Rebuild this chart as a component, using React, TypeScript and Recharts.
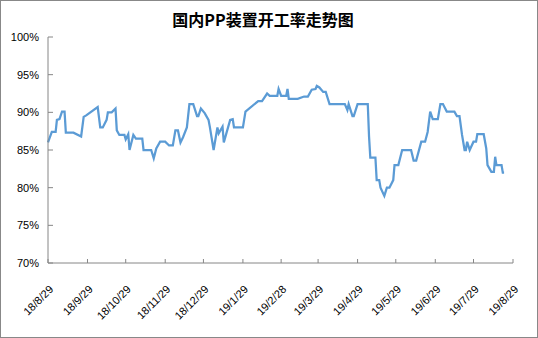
import { LineChart, Line, XAxis, YAxis } from 'recharts';

// daily readings, 国内PP装置开工率 (%)
const dates = [
  '2018-08-29', '2018-09-01', '2018-09-04', '2018-09-05', '2018-09-07', '2018-09-09', '2018-09-11', '2018-09-12',
  '2018-09-18', '2018-09-24', '2018-09-26', '2018-09-28', '2018-10-07', '2018-10-09', '2018-10-11', '2018-10-14',
  '2018-10-15', '2018-10-18', '2018-10-21', '2018-10-22', '2018-10-24', '2018-10-28', '2018-10-29', '2018-10-31',
  '2018-11-01', '2018-11-04', '2018-11-06', '2018-11-11', '2018-11-12', '2018-11-18', '2018-11-20', '2018-11-22',
  '2018-11-25', '2018-11-29', '2018-12-02', '2018-12-05', '2018-12-07', '2018-12-09', '2018-12-11', '2018-12-13',
  '2018-12-16', '2018-12-18', '2018-12-21', '2018-12-24', '2018-12-25', '2018-12-27', '2018-12-30', '2019-01-02',
  '2019-01-03', '2019-01-06', '2019-01-09', '2019-01-10', '2019-01-13', '2019-01-14', '2019-01-16', '2019-01-19',
  '2019-01-21', '2019-01-22', '2019-01-29', '2019-01-31', '2019-02-10', '2019-02-13', '2019-02-17', '2019-02-19',
  '2019-02-25', '2019-02-26', '2019-02-28', '2019-03-04', '2019-03-05', '2019-03-06', '2019-03-13', '2019-03-18',
  '2019-03-21', '2019-03-24', '2019-03-27', '2019-03-28', '2019-03-30', '2019-04-02', '2019-04-04', '2019-04-07',
  '2019-04-19', '2019-04-21', '2019-04-22', '2019-04-25', '2019-04-26', '2019-04-29', '2019-05-07', '2019-05-08',
  '2019-05-09', '2019-05-13', '2019-05-14', '2019-05-16', '2019-05-17', '2019-05-20', '2019-05-22', '2019-05-24',
  '2019-05-27', '2019-05-28', '2019-05-31', '2019-06-03', '2019-06-10', '2019-06-12', '2019-06-14', '2019-06-18',
  '2019-06-21', '2019-06-23', '2019-06-25', '2019-06-27', '2019-07-01', '2019-07-03', '2019-07-05', '2019-07-08',
  '2019-07-14', '2019-07-16', '2019-07-18', '2019-07-20', '2019-07-22', '2019-07-23', '2019-07-24', '2019-07-26',
  '2019-07-29', '2019-07-31', '2019-08-01', '2019-08-06', '2019-08-08', '2019-08-09', '2019-08-12', '2019-08-14',
  '2019-08-15', '2019-08-16', '2019-08-20', '2019-08-21', '2019-08-22',
];

const rates = [
  86.0, 87.4, 87.4, 89.0, 89.1, 90.1, 90.1, 87.3,
  87.3, 86.8, 89.4, 89.6, 90.7, 88.0, 88.0, 89.0,
  90.0, 90.0, 90.5, 87.6, 87.0, 87.0, 86.4, 87.1,
  85.0, 87.0, 86.5, 86.5, 85.0, 85.0, 83.9, 85.2,
  86.1, 86.1, 85.6, 85.6, 87.6, 87.6, 86.0, 86.7,
  88.0, 91.1, 91.1, 89.5, 89.5, 90.5, 89.9, 89.0,
  88.1, 85.0, 88.0, 87.2, 88.1, 86.0, 87.2, 89.0,
  89.1, 88.0, 88.0, 90.1, 91.5, 91.5, 92.5, 92.2,
  92.2, 93.1, 92.2, 92.2, 93.1, 91.8, 91.8, 92.1,
  92.1, 93.0, 93.1, 93.5, 93.3, 92.7, 92.7, 91.1,
  91.1, 90.3, 91.1, 89.5, 89.5, 91.1, 91.1, 86.8,
  84.0, 84.0, 81.0, 81.0, 80.0, 78.9, 80.0, 80.0,
  81.0, 83.0, 83.0, 85.0, 85.0, 83.6, 83.6, 86.1,
  86.1, 87.4, 90.1, 89.1, 89.1, 91.1, 91.1, 90.1,
  90.1, 89.5, 89.5, 87.0, 85.0, 85.0, 86.1, 85.0,
  86.1, 86.1, 87.1, 87.1, 85.2, 83.0, 82.1, 82.1,
  84.1, 83.0, 83.0, 82.0, 82.0,
];

const tickDates = [
  '2018-08-29', '2018-09-29', '2018-10-29', '2018-11-29', '2018-12-29', '2019-01-29', '2019-02-28',
  '2019-03-29', '2019-04-29', '2019-05-29', '2019-06-29', '2019-07-29', '2019-08-29',
];
const tickLabels = [
  '18/8/29', '18/9/29', '18/10/29', '18/11/29', '18/12/29', '19/1/29', '19/2/28',
  '19/3/29', '19/4/29', '19/5/29', '19/6/29', '19/7/29', '19/8/29',
];
const yTicks = [70, 75, 80, 85, 90, 95, 100];

const start = Date.UTC(2018, 7, 29);
const toDay = (s: string) => {
  const [y, m, d] = s.split('-').map(Number);
  return Math.round((Date.UTC(y, m - 1, d) - start) / 86400000);
};

const data = dates.map((d, i) => ({ day: toDay(d), rate: rates[i] }));
const xTicks = tickDates.map(toDay);

const labelFont = '"Liberation Sans", Arial, sans-serif';
const axisColor = '#868686';

function DateTick({ x, y, payload }: any) {
  const label = tickLabels[xTicks.indexOf(payload.value)];
  const tx = x + 6;
  const ty = y + 27;
  return (
    <text x={tx} y={ty} transform={`rotate(-45, ${tx}, ${ty})`} textAnchor="end"
      fontSize={11} fill="#000" fontFamily={labelFont}>
      {label}
    </text>
  );
}

export default function App() {
  return (
    <div style={{ position: 'absolute', left: 0, top: 0, width: 538, height: 338, boxSizing: 'border-box',
      border: '1px solid #888', background: '#fff' }}>
      <div style={{ position: 'absolute', left: 0, top: 10, width: 524, textAlign: 'center', fontSize: 16,
        lineHeight: '16px', fontWeight: 'bold', fontFamily: '"Noto Sans CJK SC", sans-serif', color: '#000' }}>
        国内PP装置开工率走势图
      </div>
      <LineChart width={536} height={336} data={data} margin={{ top: 36, right: 24, bottom: 0, left: 0 }}>
        <XAxis dataKey="day" type="number" domain={[0, 365]} ticks={xTicks} interval={0}
          height={74} stroke={axisColor} tickSize={-4} tickMargin={4} tick={<DateTick />} />
        <YAxis type="number" domain={[70, 100]} ticks={yTicks} interval={0} width={47}
          stroke={axisColor} tickSize={-5} tickMargin={14}
          tick={{ fontSize: 11, fill: '#000', fontFamily: labelFont }}
          tickFormatter={(v: number) => `${v}%`} />
        <Line type="linear" dataKey="rate" stroke="#5B9BD5" strokeWidth={2.25} dot={false}
          isAnimationActive={false} />
      </LineChart>
    </div>
  );
}
